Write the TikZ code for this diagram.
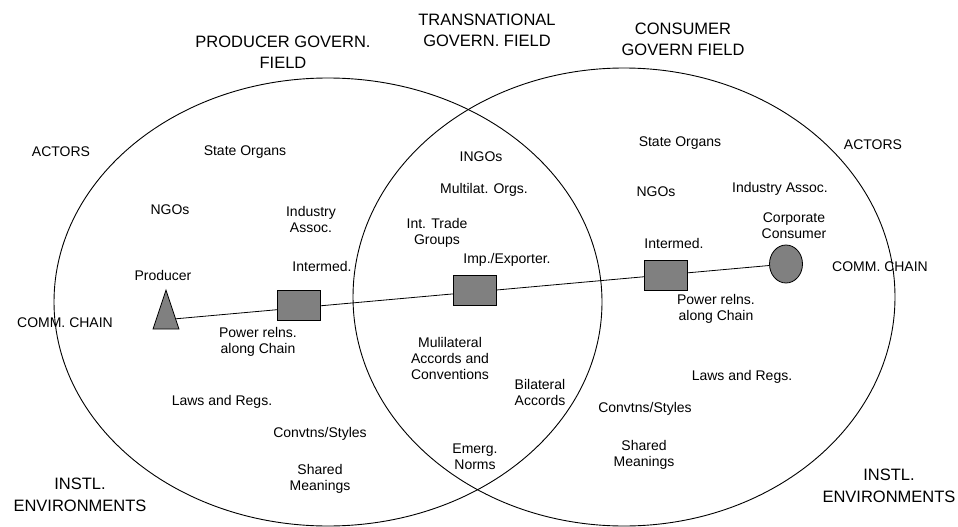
\documentclass[tikz,border=0pt]{standalone}
\usepackage{fontspec}
\setmainfont{Liberation Sans}
\usetikzlibrary{shapes.geometric}

\tikzset{
  field/.style={draw=black, line width=0.9pt},
  lbl/.style={align=center, inner sep=0pt, font=\fontsize{14}{16}\selectfont},
  head/.style={align=center, inner sep=0pt, font=\fontsize{16.5}{21}\selectfont},
  envlbl/.style={align=center, inner sep=0pt, font=\fontsize{16.5}{22}\selectfont},
  agent/.style={draw=black, fill=gray, line width=0.8pt, inner sep=0pt},
  chainbox/.style={agent, rectangle, minimum width=43pt, minimum height=30pt},
  chainline/.style={draw=black, line width=0.8pt}
}

\begin{document}
\begin{tikzpicture}[x=1pt, y=-1pt]
\useasboundingbox (0,0) rectangle (958,527);
\fill[white] (0,0) rectangle (958,527);

% the two governance fields; their overlap is the transnational field
\draw[field] (328,302) ellipse [x radius=274, y radius=224];
\draw[field] (624,297) ellipse [x radius=271, y radius=229];

% field titles
\node[head] (hprod)  at (283,52) {PRODUCER GOVERN.\\FIELD};
\node[head] (htrans) at (487,30) {TRANSNATIONAL\\GOVERN. FIELD};
\node[head] (hcons)  at (683,39) {CONSUMER\\GOVERN FIELD};

% row headings
\node[lbl] (actL)  at (61,152)  {ACTORS};
\node[lbl] (actR)  at (873,145) {ACTORS};
\node[lbl] (comL)  at (65,323)  {COMM. CHAIN};
\node[lbl] (comR)  at (880,267) {COMM. CHAIN};
\node[envlbl] (envL) at (80,495)  {INSTL.\\ENVIRONMENTS};
\node[envlbl] (envR) at (889,486) {INSTL.\\ENVIRONMENTS};

% producer side
\node[lbl] (soL)   at (245,152) {State Organs};
\node[lbl] (ngoL)  at (170,210) {NGOs};
\node[lbl] (indL)  at (311,219) {Industry\\Assoc.};
\node[lbl] (prodl) at (163,275) {Producer};
\node[lbl] (intL)  at (322,266) {Intermed.};
\node[lbl] (powL)  at (258,342) {Power relns.\\along Chain};
\node[lbl] (lawL)  at (222,402) {Laws and Regs.};
\node[lbl] (conL)  at (320,434) {Convtns/Styles};
\node[lbl] (shL)   at (320,479) {Shared\\Meanings};

% transnational overlap
\node[lbl] (ingo)  at (481,157) {INGOs};
\node[lbl] (multi) at (484,190) {Multilat. Orgs.};
\node[lbl] (itg)   at (437,233) {Int. Trade\\Groups};
\node[lbl] (impl)  at (507,260) {Imp./Exporter.};
\node[lbl] (mula)  at (450,358) {Mulilateral\\Accords and\\Conventions};
\node[lbl] (bila)  at (540,392) {Bilateral\\Accords};
\node[lbl] (emer)  at (475,457) {Emerg.\\Norms};

% consumer side
\node[lbl] (soR)   at (680,143) {State Organs};
\node[lbl] (ngoR)  at (656,192) {NGOs};
\node[lbl] (indR)  at (780,189) {Industry Assoc.};
\node[lbl] (corpl) at (794,226) {Corporate\\Consumer};
\node[lbl] (intR)  at (674,243) {Intermed.};
\node[lbl] (powR)  at (716,309) {Power relns.\\along Chain};
\node[lbl] (lawR)  at (742,377) {Laws and Regs.};
\node[lbl] (conR)  at (645,409) {Convtns/Styles};
\node[lbl] (shR)   at (644,455) {Shared\\Meanings};

% commodity chain: producer to corporate consumer
\node[agent, isosceles triangle, isosceles triangle stretches,
      shape border rotate=90, minimum width=26pt, minimum height=39pt,
      anchor=apex] (tri) at (166,289) {};
\node[agent, ellipse, minimum width=33pt, minimum height=38pt] (circ) at (786,264) {};
\draw[chainline] (tri) -- (circ);

\node[chainbox] (b1) at (299,305) {};
\node[chainbox] (b2) at (475,290) {};
\node[chainbox] (b3) at (666,275) {};
\end{tikzpicture}
\end{document}
